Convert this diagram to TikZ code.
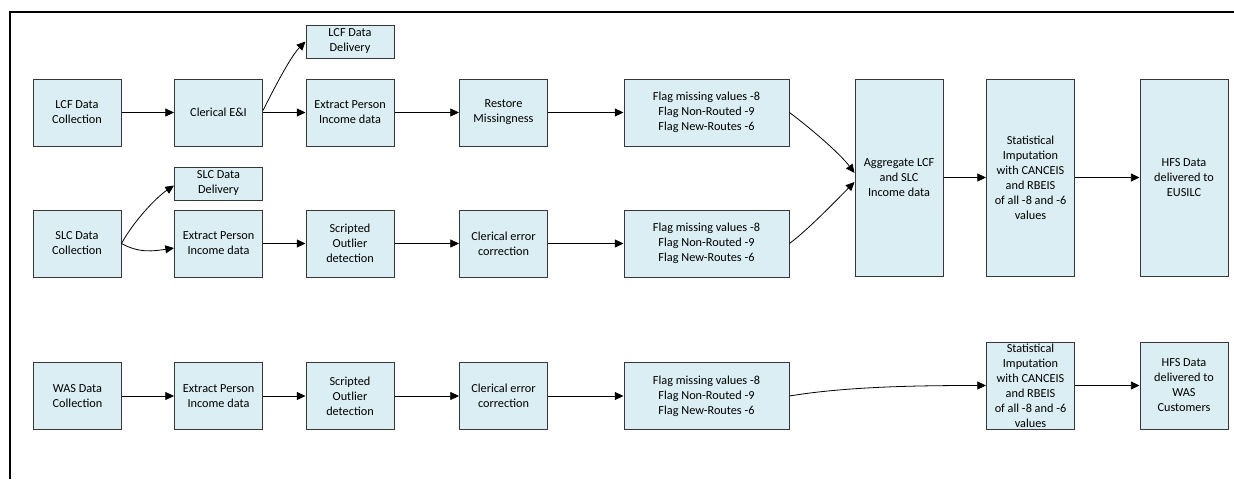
\documentclass[tikz,border=0pt]{standalone}
\usepackage{fontspec}
\setmainfont{Carlito}
\usetikzlibrary{arrows.meta}
\definecolor{boxfill}{RGB}{219,238,244}
\definecolor{boxline}{RGB}{55,55,55}
\begin{document}
\begin{tikzpicture}[x=0.75pt,y=-0.75pt,
  box/.style={draw=boxline, line width=0.75pt, fill=boxfill, align=center, inner sep=1pt,
    font=\fontsize{9.2}{11.25}\selectfont, minimum width=66pt, minimum height=50.25pt},
  flagbox/.style={box, minimum width=123.75pt},
  delbox/.style={box, minimum height=24.75pt},
  tallbox/.style={box, minimum height=147.75pt},
  statbox/.style={box, minimum height=65.25pt},
  arr/.style={-{Triangle[length=6.5pt,width=6pt]}, line width=0.6pt},
  frame/.style={line width=1.5pt}]
\useasboundingbox (0,0) rectangle (1234,479);
\draw[frame] (10,479) -- (10,12) -- (1234,12);

% LCF row
\node[box] (lcfc) at (77,112.5) {LCF Data\\Collection};
\node[box] (cei) at (218.5,112.5) {Clerical E\&I};
\node[delbox] (lcfd) at (350,41.5) {LCF Data\\Delivery};
\node[box] (ex1) at (350,112.5) {Extract Person\\Income data};
\node[box] (rest) at (503.5,112.5) {Restore\\Missingness};
\node[flagbox] (flag1) at (706.5,112.5) {Flag missing values -8\\Flag Non-Routed -9\\Flag New-Routes -6};

% merged
\node[tallbox] (agg) at (899,177.5) {Aggregate LCF\\and SLC\\Income data};
\node[tallbox] (stat1) at (1030.5,177.5) {Statistical\\Imputation\\with CANCEIS\\and RBEIS\\of all -8 and -6\\values};
\node[tallbox] (hfs1) at (1184,177.5) {HFS Data\\delivered to\\EUSILC};

% SLC row
\node[delbox] (slcd) at (218.5,183.5) {SLC Data\\Delivery};
\node[box] (slcc) at (77,243.5) {SLC Data\\Collection};
\node[box] (ex2) at (218.5,243.5) {Extract Person\\Income data};
\node[box] (scr2) at (350,243.5) {Scripted\\Outlier\\detection};
\node[box] (cle2) at (503.5,243.5) {Clerical error\\correction};
\node[flagbox] (flag2) at (706.5,243.5) {Flag missing values -8\\Flag Non-Routed -9\\Flag New-Routes -6};

% WAS row
\node[box] (wasc) at (77.5,396) {WAS Data\\Collection};
\node[box] (ex3) at (218.5,396) {Extract Person\\Income data};
\node[box] (scr3) at (350,396) {Scripted\\Outlier\\detection};
\node[box] (cle3) at (503.5,396) {Clerical error\\correction};
\node[flagbox] (flag3) at (706.5,396) {Flag missing values -8\\Flag Non-Routed -9\\Flag New-Routes -6};
\node[statbox] (stat3) at (1030.5,385.5) {Statistical\\Imputation\\with CANCEIS\\and RBEIS\\of all -8 and -6\\values};
\node[statbox] (hfs3) at (1184,385.5) {HFS Data\\delivered to\\WAS\\Customers};

% connectors LCF
\draw[arr] (lcfc) -- (cei);
\draw[arr] (cei) -- (ex1);
\draw[arr] (ex1) -- (rest);
\draw[arr] (rest) -- (flag1);
\draw[arr] ([yshift=1.5pt]cei.east) .. controls +(10,-20) and +(-15,15) .. (lcfd.west);
\draw[arr] (flag1.east) .. controls +(20,15) and +(-15,-20) .. ([yshift=3.4pt]agg.west);

% connectors SLC
\draw[arr] (slcc.east) .. controls +(12,-22) and +(-18,12) .. ([yshift=-1.5pt]slcd.west);
\draw[arr] (slcc.east) .. controls +(18,10) and +(-20,3) .. ([yshift=-3.4pt]ex2.west);
\draw[arr] (ex2) -- (scr2);
\draw[arr] (scr2) -- (cle2);
\draw[arr] (cle2) -- (flag2);
\draw[arr] (flag2.east) .. controls +(20,-15) and +(-15,15) .. ([yshift=-3.4pt]agg.west);
\draw[arr] (agg) -- (stat1);
\draw[arr] (stat1) -- (hfs1);

% connectors WAS
\draw[arr] (wasc) -- (ex3);
\draw[arr] (ex3) -- (scr3);
\draw[arr] (scr3) -- (cle3);
\draw[arr] (cle3) -- (flag3);
\draw[arr] (flag3.east) .. controls +(60,-10) and +(-60,0) .. (stat3.west);
\draw[arr] (stat3) -- (hfs3);
\end{tikzpicture}
\end{document}
